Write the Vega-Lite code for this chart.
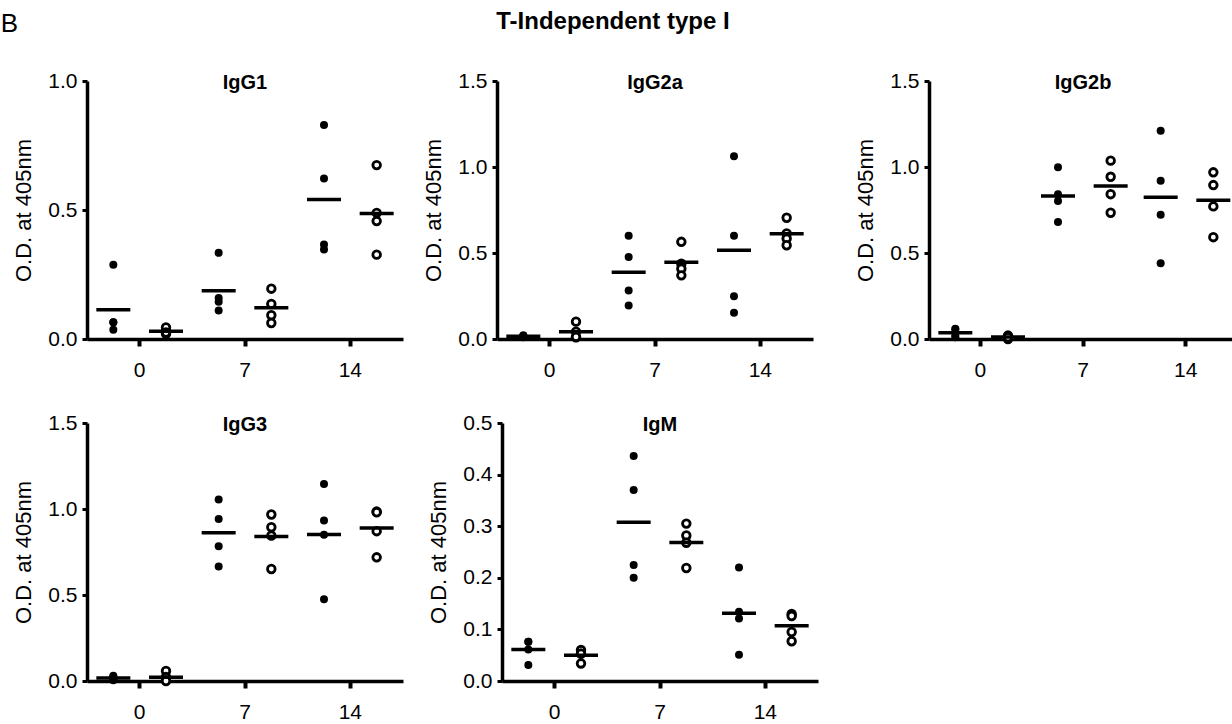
{
  "$schema": "https://vega.github.io/schema/vega-lite/v6.json",
  "background": "white",
  "padding": {"left": 0, "top": 10, "right": 0, "bottom": 0},
  "title": {"text": "T-Independent type I", "anchor": "middle", "frame": "bounds", "fontSize": 24, "fontWeight": "bold", "baseline": "alphabetic", "offset": -42, "dx": -6},
  "data": {"values": [
    {"iso":"IgG1","day":0,"grp":"filled","od":0.288},{"iso":"IgG1","day":0,"grp":"filled","od":0.065},{"iso":"IgG1","day":0,"grp":"filled","od":0.065},{"iso":"IgG1","day":0,"grp":"filled","od":0.036},
    {"iso":"IgG1","day":0,"grp":"open","od":0.03},{"iso":"IgG1","day":0,"grp":"open","od":0.045},{"iso":"IgG1","day":0,"grp":"open","od":0.02},{"iso":"IgG1","day":0,"grp":"open","od":0.025},
    {"iso":"IgG1","day":7,"grp":"filled","od":0.334},{"iso":"IgG1","day":7,"grp":"filled","od":0.159},{"iso":"IgG1","day":7,"grp":"filled","od":0.144},{"iso":"IgG1","day":7,"grp":"filled","od":0.11},
    {"iso":"IgG1","day":7,"grp":"open","od":0.195},{"iso":"IgG1","day":7,"grp":"open","od":0.136},{"iso":"IgG1","day":7,"grp":"open","od":0.092},{"iso":"IgG1","day":7,"grp":"open","od":0.062},
    {"iso":"IgG1","day":14,"grp":"filled","od":0.829},{"iso":"IgG1","day":14,"grp":"filled","od":0.622},{"iso":"IgG1","day":14,"grp":"filled","od":0.366},{"iso":"IgG1","day":14,"grp":"filled","od":0.347},
    {"iso":"IgG1","day":14,"grp":"open","od":0.674},{"iso":"IgG1","day":14,"grp":"open","od":0.489},{"iso":"IgG1","day":14,"grp":"open","od":0.457},{"iso":"IgG1","day":14,"grp":"open","od":0.327},

    {"iso":"IgG2a","day":0,"grp":"filled","od":0.02},{"iso":"IgG2a","day":0,"grp":"filled","od":0.02},{"iso":"IgG2a","day":0,"grp":"filled","od":0.015},{"iso":"IgG2a","day":0,"grp":"filled","od":0.01},
    {"iso":"IgG2a","day":0,"grp":"open","od":0.101},{"iso":"IgG2a","day":0,"grp":"open","od":0.043},{"iso":"IgG2a","day":0,"grp":"open","od":0.01},{"iso":"IgG2a","day":0,"grp":"open","od":0.012},
    {"iso":"IgG2a","day":7,"grp":"filled","od":0.6},{"iso":"IgG2a","day":7,"grp":"filled","od":0.477},{"iso":"IgG2a","day":7,"grp":"filled","od":0.282},{"iso":"IgG2a","day":7,"grp":"filled","od":0.195},
    {"iso":"IgG2a","day":7,"grp":"open","od":0.565},{"iso":"IgG2a","day":7,"grp":"open","od":0.438},{"iso":"IgG2a","day":7,"grp":"open","od":0.409},{"iso":"IgG2a","day":7,"grp":"open","od":0.37},
    {"iso":"IgG2a","day":14,"grp":"filled","od":1.062},{"iso":"IgG2a","day":14,"grp":"filled","od":0.6},{"iso":"IgG2a","day":14,"grp":"filled","od":0.249},{"iso":"IgG2a","day":14,"grp":"filled","od":0.152},
    {"iso":"IgG2a","day":14,"grp":"open","od":0.705},{"iso":"IgG2a","day":14,"grp":"open","od":0.614},{"iso":"IgG2a","day":14,"grp":"open","od":0.584},{"iso":"IgG2a","day":14,"grp":"open","od":0.545},

    {"iso":"IgG2b","day":0,"grp":"filled","od":0.055},{"iso":"IgG2b","day":0,"grp":"filled","od":0.06},{"iso":"IgG2b","day":0,"grp":"filled","od":0.02},{"iso":"IgG2b","day":0,"grp":"filled","od":0.01},
    {"iso":"IgG2b","day":0,"grp":"open","od":0.015},{"iso":"IgG2b","day":0,"grp":"open","od":0.02},{"iso":"IgG2b","day":0,"grp":"open","od":0.0},{"iso":"IgG2b","day":0,"grp":"open","od":0.01},
    {"iso":"IgG2b","day":7,"grp":"filled","od":0.998},{"iso":"IgG2b","day":7,"grp":"filled","od":0.842},{"iso":"IgG2b","day":7,"grp":"filled","od":0.803},{"iso":"IgG2b","day":7,"grp":"filled","od":0.68},
    {"iso":"IgG2b","day":7,"grp":"open","od":1.037},{"iso":"IgG2b","day":7,"grp":"open","od":0.943},{"iso":"IgG2b","day":7,"grp":"open","od":0.842},{"iso":"IgG2b","day":7,"grp":"open","od":0.734},
    {"iso":"IgG2b","day":14,"grp":"filled","od":1.211},{"iso":"IgG2b","day":14,"grp":"filled","od":0.92},{"iso":"IgG2b","day":14,"grp":"filled","od":0.723},{"iso":"IgG2b","day":14,"grp":"filled","od":0.44},
    {"iso":"IgG2b","day":14,"grp":"open","od":0.969},{"iso":"IgG2b","day":14,"grp":"open","od":0.895},{"iso":"IgG2b","day":14,"grp":"open","od":0.771},{"iso":"IgG2b","day":14,"grp":"open","od":0.592},

    {"iso":"IgG3","day":0,"grp":"filled","od":0.025},{"iso":"IgG3","day":0,"grp":"filled","od":0.03},{"iso":"IgG3","day":0,"grp":"filled","od":0.01},{"iso":"IgG3","day":0,"grp":"filled","od":0.005},
    {"iso":"IgG3","day":0,"grp":"open","od":0.058},{"iso":"IgG3","day":0,"grp":"open","od":0.023},{"iso":"IgG3","day":0,"grp":"open","od":0.005},{"iso":"IgG3","day":0,"grp":"open","od":0.0},
    {"iso":"IgG3","day":7,"grp":"filled","od":1.055},{"iso":"IgG3","day":7,"grp":"filled","od":0.942},{"iso":"IgG3","day":7,"grp":"filled","od":0.783},{"iso":"IgG3","day":7,"grp":"filled","od":0.666},
    {"iso":"IgG3","day":7,"grp":"open","od":0.968},{"iso":"IgG3","day":7,"grp":"open","od":0.894},{"iso":"IgG3","day":7,"grp":"open","od":0.845},{"iso":"IgG3","day":7,"grp":"open","od":0.651},
    {"iso":"IgG3","day":14,"grp":"filled","od":1.146},{"iso":"IgG3","day":14,"grp":"filled","od":0.933},{"iso":"IgG3","day":14,"grp":"filled","od":0.851},{"iso":"IgG3","day":14,"grp":"filled","od":0.476},
    {"iso":"IgG3","day":14,"grp":"open","od":0.985},{"iso":"IgG3","day":14,"grp":"open","od":0.981},{"iso":"IgG3","day":14,"grp":"open","od":0.871},{"iso":"IgG3","day":14,"grp":"open","od":0.719},

    {"iso":"IgM","day":0,"grp":"filled","od":0.076},{"iso":"IgM","day":0,"grp":"filled","od":0.076},{"iso":"IgM","day":0,"grp":"filled","od":0.061},{"iso":"IgM","day":0,"grp":"filled","od":0.031},
    {"iso":"IgM","day":0,"grp":"open","od":0.06},{"iso":"IgM","day":0,"grp":"open","od":0.053},{"iso":"IgM","day":0,"grp":"open","od":0.053},{"iso":"IgM","day":0,"grp":"open","od":0.034},
    {"iso":"IgM","day":7,"grp":"filled","od":0.436},{"iso":"IgM","day":7,"grp":"filled","od":0.37},{"iso":"IgM","day":7,"grp":"filled","od":0.225},{"iso":"IgM","day":7,"grp":"filled","od":0.2},
    {"iso":"IgM","day":7,"grp":"open","od":0.305},{"iso":"IgM","day":7,"grp":"open","od":0.282},{"iso":"IgM","day":7,"grp":"open","od":0.268},{"iso":"IgM","day":7,"grp":"open","od":0.219},
    {"iso":"IgM","day":14,"grp":"filled","od":0.22},{"iso":"IgM","day":14,"grp":"filled","od":0.134},{"iso":"IgM","day":14,"grp":"filled","od":0.121},{"iso":"IgM","day":14,"grp":"filled","od":0.051},
    {"iso":"IgM","day":14,"grp":"open","od":0.13},{"iso":"IgM","day":14,"grp":"open","od":0.126},{"iso":"IgM","day":14,"grp":"open","od":0.095},{"iso":"IgM","day":14,"grp":"open","od":0.077}
  ]},
  "spacing": 32,
  "vconcat": [
    {
      "title": {"text": "B", "anchor": "start", "frame": "bounds", "fontSize": 26, "fontWeight": "normal", "baseline": "alphabetic", "offset": 0, "dy": -12, "dx": -12},
      "spacing": 19,
      "hconcat": [
        {
          "width": 316, "height": 258,
          "title": {"text": "IgG1", "offset": 0, "dy": 23},
          "transform": [{"filter": {"field": "iso", "equal": "IgG1"}}],
          "encoding": {
            "x": {"field": "day", "type": "ordinal", "scale": {"domain": [0, 7, 14], "paddingInner": 0, "paddingOuter": 0}},
            "xOffset": {"field": "grp", "type": "nominal", "scale": {"domain": ["filled", "open"], "paddingInner": 0, "paddingOuter": 0}},
            "y": {"field": "od", "type": "quantitative", "scale": {"domain": [0, 1], "nice": false}, "axis": {"values": [0, 0.5, 1], "format": ".1f", "title": "O.D. at 405nm"}}
          },
          "layer": [
            {"transform": [{"filter": {"field": "grp", "equal": "filled"}}], "mark": {"type": "circle", "size": 64, "color": "black", "opacity": 1}},
            {"transform": [{"filter": {"field": "grp", "equal": "open"}}], "mark": {"type": "point", "shape": "circle", "size": 58, "filled": true, "fill": "white", "stroke": "black", "strokeWidth": 2.8, "opacity": 1}},
            {"mark": {"type": "tick", "size": 34, "thickness": 3.5, "color": "black", "opacity": 1}, "encoding": {"y": {"aggregate": "mean", "field": "od", "type": "quantitative", "title": "O.D. at 405nm"}}}
          ]
        },
        {
          "spacing": 41,
          "hconcat": [
            {
              "width": 316, "height": 258,
              "title": {"text": "IgG2a", "offset": 0, "dy": 23},
              "transform": [{"filter": {"field": "iso", "equal": "IgG2a"}}],
              "encoding": {
                "x": {"field": "day", "type": "ordinal", "scale": {"domain": [0, 7, 14], "paddingInner": 0, "paddingOuter": 0}},
                "xOffset": {"field": "grp", "type": "nominal", "scale": {"domain": ["filled", "open"], "paddingInner": 0, "paddingOuter": 0}},
                "y": {"field": "od", "type": "quantitative", "scale": {"domain": [0, 1.5], "nice": false}, "axis": {"values": [0, 0.5, 1, 1.5], "format": ".1f", "title": "O.D. at 405nm"}}
              },
              "layer": [
                {"transform": [{"filter": {"field": "grp", "equal": "filled"}}], "mark": {"type": "circle", "size": 64, "color": "black", "opacity": 1}},
                {"transform": [{"filter": {"field": "grp", "equal": "open"}}], "mark": {"type": "point", "shape": "circle", "size": 58, "filled": true, "fill": "white", "stroke": "black", "strokeWidth": 2.8, "opacity": 1}},
                {"mark": {"type": "tick", "size": 34, "thickness": 3.5, "color": "black", "opacity": 1}, "encoding": {"y": {"aggregate": "mean", "field": "od", "type": "quantitative", "title": "O.D. at 405nm"}}}
              ]
            },
            {
              "width": 308, "height": 258,
              "title": {"text": "IgG2b", "offset": 0, "dy": 23},
              "transform": [{"filter": {"field": "iso", "equal": "IgG2b"}}],
              "encoding": {
                "x": {"field": "day", "type": "ordinal", "scale": {"domain": [0, 7, 14], "paddingInner": 0, "paddingOuter": 0}},
                "xOffset": {"field": "grp", "type": "nominal", "scale": {"domain": ["filled", "open"], "paddingInner": 0, "paddingOuter": 0}},
                "y": {"field": "od", "type": "quantitative", "scale": {"domain": [0, 1.5], "nice": false}, "axis": {"values": [0, 0.5, 1, 1.5], "format": ".1f", "title": "O.D. at 405nm"}}
              },
              "layer": [
                {"transform": [{"filter": {"field": "grp", "equal": "filled"}}], "mark": {"type": "circle", "size": 64, "color": "black", "opacity": 1}},
                {"transform": [{"filter": {"field": "grp", "equal": "open"}}], "mark": {"type": "point", "shape": "circle", "size": 58, "filled": true, "fill": "white", "stroke": "black", "strokeWidth": 2.8, "opacity": 1}},
                {"mark": {"type": "tick", "size": 34, "thickness": 3.5, "color": "black", "opacity": 1}, "encoding": {"y": {"aggregate": "mean", "field": "od", "type": "quantitative", "title": "O.D. at 405nm"}}}
              ]
            }
          ]
        }
      ]
    },
    {
      "spacing": 24,
      "hconcat": [
        {
          "width": 316, "height": 258,
          "title": {"text": "IgG3", "offset": 0, "dy": 23},
          "transform": [{"filter": {"field": "iso", "equal": "IgG3"}}],
          "encoding": {
            "x": {"field": "day", "type": "ordinal", "scale": {"domain": [0, 7, 14], "paddingInner": 0, "paddingOuter": 0}},
            "xOffset": {"field": "grp", "type": "nominal", "scale": {"domain": ["filled", "open"], "paddingInner": 0, "paddingOuter": 0}},
            "y": {"field": "od", "type": "quantitative", "scale": {"domain": [0, 1.5], "nice": false}, "axis": {"values": [0, 0.5, 1, 1.5], "format": ".1f", "title": "O.D. at 405nm"}}
          },
          "layer": [
            {"transform": [{"filter": {"field": "grp", "equal": "filled"}}], "mark": {"type": "circle", "size": 64, "color": "black", "opacity": 1}},
            {"transform": [{"filter": {"field": "grp", "equal": "open"}}], "mark": {"type": "point", "shape": "circle", "size": 58, "filled": true, "fill": "white", "stroke": "black", "strokeWidth": 2.8, "opacity": 1}},
            {"mark": {"type": "tick", "size": 34, "thickness": 3.5, "color": "black", "opacity": 1}, "encoding": {"y": {"aggregate": "mean", "field": "od", "type": "quantitative", "title": "O.D. at 405nm"}}}
          ]
        },
        {
          "width": 316, "height": 258,
          "title": {"text": "IgM", "offset": 0, "dy": 23},
          "transform": [{"filter": {"field": "iso", "equal": "IgM"}}],
          "encoding": {
            "x": {"field": "day", "type": "ordinal", "scale": {"domain": [0, 7, 14], "paddingInner": 0, "paddingOuter": 0}},
            "xOffset": {"field": "grp", "type": "nominal", "scale": {"domain": ["filled", "open"], "paddingInner": 0, "paddingOuter": 0}},
            "y": {"field": "od", "type": "quantitative", "scale": {"domain": [0, 0.5], "nice": false}, "axis": {"values": [0, 0.1, 0.2, 0.3, 0.4, 0.5], "format": ".1f", "title": "O.D. at 405nm"}}
          },
          "layer": [
            {"transform": [{"filter": {"field": "grp", "equal": "filled"}}], "mark": {"type": "circle", "size": 64, "color": "black", "opacity": 1}},
            {"transform": [{"filter": {"field": "grp", "equal": "open"}}], "mark": {"type": "point", "shape": "circle", "size": 58, "filled": true, "fill": "white", "stroke": "black", "strokeWidth": 2.8, "opacity": 1}},
            {"mark": {"type": "tick", "size": 34, "thickness": 3.5, "color": "black", "opacity": 1}, "encoding": {"y": {"aggregate": "mean", "field": "od", "type": "quantitative", "title": "O.D. at 405nm"}}}
          ]
        }
      ]
    }
  ],
  "config": {
    "font": "Liberation Sans",
    "view": {"stroke": null},
    "axis": {"domainColor": "black", "domainWidth": 3.5, "tickColor": "black", "labelColor": "black", "titleColor": "black", "labelFontSize": 21, "titleFontSize": 22, "titleFontWeight": "normal", "grid": false, "labelFlush": false, "labelOverlap": false},
    "axisX": {"tickSize": 7, "tickWidth": 4, "labelPadding": 13, "labelAngle": 0, "title": null},
    "axisY": {"tickSize": 5, "tickWidth": 3, "labelPadding": 5, "titlePadding": 12},
    "title": {"fontSize": 20, "fontWeight": "bold", "color": "black", "baseline": "alphabetic"}
  }
}
